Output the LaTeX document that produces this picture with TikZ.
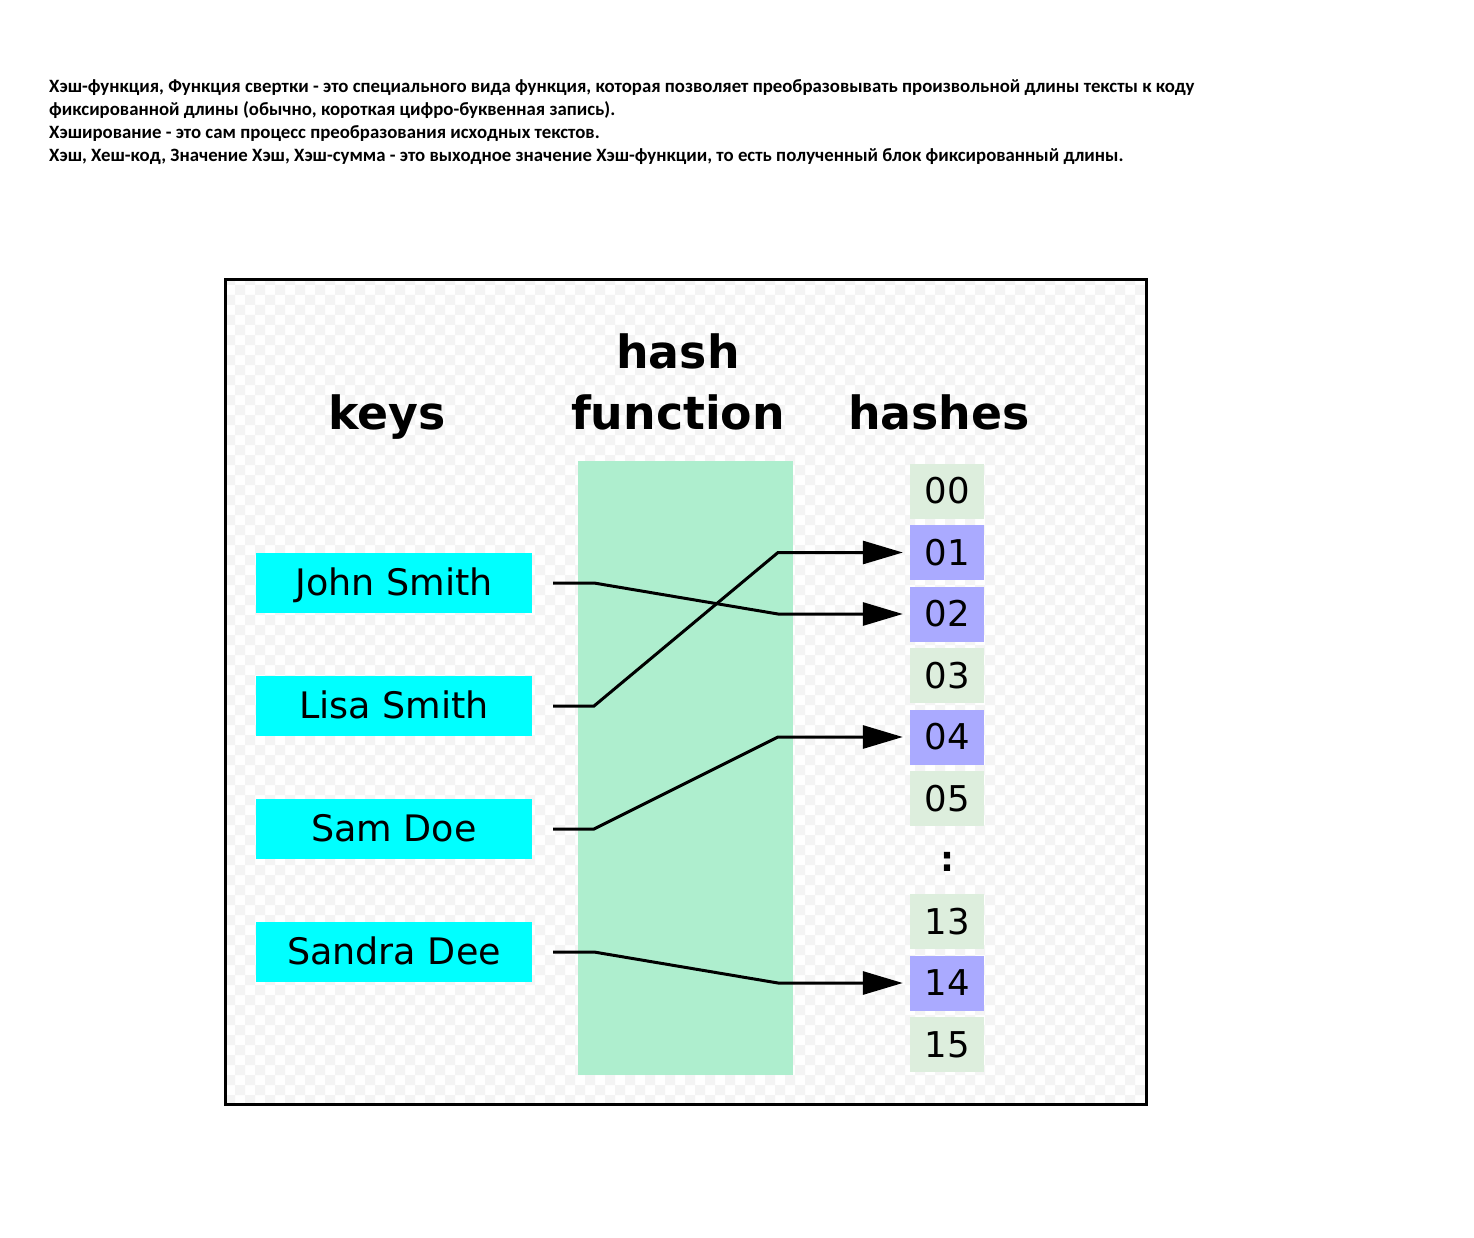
\documentclass[tikz,border=0pt]{standalone}
\usepackage{fontspec}
\setmainfont{DejaVu Sans}
\newfontfamily\calfont{Carlito}
\usetikzlibrary{arrows.meta}
\definecolor{chk}{RGB}{244,244,244}
\definecolor{keycol}{RGB}{0,255,255}
\definecolor{hfcol}{RGB}{174,238,206}
\definecolor{hashon}{RGB}{170,170,255}
\definecolor{hashoff}{RGB}{221,238,221}
\tikzset{
  keybox/.style={fill=keycol, minimum width=276pt, minimum height=60pt, inner sep=0pt,
    font=\fontsize{36.5}{40}\selectfont, text height=25pt, text depth=1pt},
  hashbox/.style={minimum width=74pt, minimum height=55pt, inner sep=0pt,
    font=\fontsize{35.5}{40}\selectfont},
  hon/.style={hashbox, fill=hashon},
  hoff/.style={hashbox, fill=hashoff},
  title/.style={font=\fontsize{45.8}{50}\selectfont\bfseries, anchor=base, inner sep=0pt},
  conn/.style={line width=3pt, -{Triangle[length=40pt,width=23pt]}},
  desc/.style={font=\calfont\bfseries\fontsize{18.8}{22}\selectfont, anchor=base west, inner sep=0pt}
}
\begin{document}
\begin{tikzpicture}[x=1pt,y=-1pt]
\useasboundingbox (0,0) rectangle (1474,1238);
\fill[white] (0,0) rectangle (1474,1238);
% description
\node[desc] (t1) at (49,93) {Хэш-функция, Функция свертки - это специального вида функция, которая позволяет преобразовывать произвольной длины тексты к коду};
\node[desc] (t2) at (49,116) {фиксированной длины (обычно, короткая цифро-буквенная запись).};
\node[desc] (t3) at (49,139) {Хэширование - это сам процесс преобразования исходных текстов.};
\node[desc] (t4) at (49,162) {Хэш, Хеш-код, Значение Хэш, Хэш-сумма - это выходное значение Хэш-функции, то есть полученный блок фиксированный длины.};
% checkered background
\begin{scope}
\clip (225,279) rectangle (1147,1105);
\fill[chk, even odd rule]
  foreach \i in {0,...,46} {(235+20*\i,270) rectangle ++(10,840)}
  foreach \j in {0,...,42} {(215,275+20*\j) rectangle ++(940,10)};
\end{scope}
\draw[line width=3pt] (225,279.5) rectangle (1146.5,1104.5);
% titles
\node[title] (tkeys) at (387,429) {keys};
\node[title] (thash) at (678,368) {hash};
\node[title] (tfun) at (678,429) {function};
\node[title] (thashes) at (939,429) {hashes};
% hash function band
\node[fill=hfcol, minimum width=215pt, minimum height=614pt, inner sep=0pt] (hf) at (685.5,768) {};
% keys
\node[keybox] (john) at (394,583) {John Smith};
\node[keybox] (lisa) at (394,706) {Lisa Smith};
\node[keybox] (sam) at (394,829) {Sam Doe};
\node[keybox] (sandra) at (394,952) {Sandra Dee};
% hashes
\node[hoff] (h00) at (947,491) {00};
\node[hon]  (h01) at (947,552.5) {01};
\node[hon]  (h02) at (947,614) {02};
\node[hoff] (h03) at (947,675.5) {03};
\node[hon]  (h04) at (947,737) {04};
\node[hoff] (h05) at (947,798.5) {05};
\node[font=\fontsize{35}{40}\selectfont\bfseries, inner sep=0pt] (dots) at (947,862) {:};
\node[hoff] (h13) at (947,921.5) {13};
\node[hon]  (h14) at (947,983) {14};
\node[hoff] (h15) at (947,1044.5) {15};
% bends
\coordinate (b1) at (594,0);
\coordinate (b2) at (778,0);
% connectors
\draw[conn] ([xshift=21pt]john.east) -- (b1 |- john.east) -- (b2 |- h02.west) -- ([xshift=-7pt]h02.west);
\draw[conn] ([xshift=21pt]lisa.east) -- (b1 |- lisa.east) -- (b2 |- h01.west) -- ([xshift=-7pt]h01.west);
\draw[conn] ([xshift=21pt]sam.east) -- (b1 |- sam.east) -- (b2 |- h04.west) -- ([xshift=-7pt]h04.west);
\draw[conn] ([xshift=21pt]sandra.east) -- (b1 |- sandra.east) -- (b2 |- h14.west) -- ([xshift=-7pt]h14.west);
\end{tikzpicture}
\end{document}
